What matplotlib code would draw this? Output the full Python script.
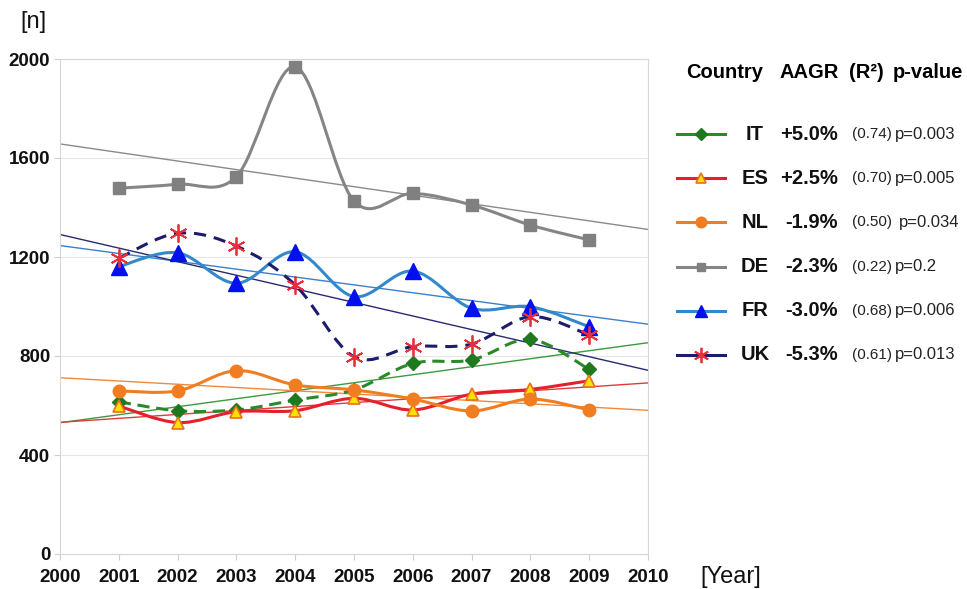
import numpy as np
import matplotlib
matplotlib.use("Agg")
import matplotlib.pyplot as plt
from matplotlib.path import Path
from matplotlib.patches import PathPatch
from matplotlib.lines import Line2D

plt.rcParams['font.family'] = ['Liberation Sans', 'DejaVu Sans']

# ---------------- data ----------------
years = [2001, 2002, 2003, 2004, 2005, 2006, 2007, 2008, 2009]
countries = ["IT", "ES", "NL", "DE", "FR", "UK"]
it_vals = [615, 579, 582, 622, 663, 770, 784, 867, 746]
es_vals = [598, 531, 575, 579, 629, 582, 646, 665, 700]
nl_vals = [659, 659, 741, 683, 663, 626, 578, 626, 582]
de_vals = [1478, 1494, 1525, 1969, 1426, 1457, 1410, 1329, 1269]
fr_vals = [1161, 1217, 1094, 1221, 1040, 1143, 993, 999, 918]
uk_vals = [1195, 1296, 1244, 1087, 797, 838, 848, 959, 885]
aagr = ["+5.0%", "+2.5%", "-1.9%", "-2.3%", "-3.0%", "-5.3%"]
r2 = ["(0.74)", "(0.70)", "(0.50)", "(0.22)", "(0.68)", "(0.61)"]
pvals = ["p=0.003", "p=0.005", "p=0.034", "p=0.2", "p=0.006", "p=0.013"]
x_ticks = list(range(2000, 2011))
y_ticks = [0, 400, 800, 1200, 1600, 2000]

series = [it_vals, es_vals, nl_vals, de_vals, fr_vals, uk_vals]

# ---------------- styles ----------------
styles = {
    "IT": dict(lc="#2a8a2a", ls=(0, (4, 2.2)), mk="D", mfc="#1f7a1f", mec="#1f7a1f", ms=7.5, mew=1, tc="#3c9a3c"),
    "ES": dict(lc="#e5202a", ls="-", mk="^", mfc="#ffe000", mec="#e87020", ms=9, mew=1.2, tc="#e03a3a"),
    "NL": dict(lc="#f07d22", ls="-", mk="o", mfc="#f07d22", mec="#f07d22", ms=9, mew=1, tc="#f08a3a"),
    "DE": dict(lc="#858585", ls="-", mk="s", mfc="#808080", mec="#808080", ms=9, mew=1, tc="#8a8a8a"),
    "FR": dict(lc="#3388cc", ls="-", mk="^", mfc="#0010ee", mec="#0010ee", ms=11, mew=1, tc="#3a80cc"),
    "UK": dict(lc="#1c1c6c", ls=(0, (4, 2.6)), mk=(6, 2, 0), mfc="#e8303c", mec="#e8303c", ms=13, mew=1.3, tc="#2a2a70"),
}


def smooth_path(xs, ys):
    pts = np.column_stack([xs, ys]).astype(float)
    n = len(pts)
    verts = [pts[0]]
    codes = [Path.MOVETO]
    for i in range(n - 1):
        p0 = pts[i - 1] if i > 0 else pts[i]
        p1 = pts[i]
        p2 = pts[i + 1]
        p3 = pts[i + 2] if i + 2 < n else pts[i + 1]
        c1 = p1 + (p2 - p0) / 6.0
        c2 = p2 - (p3 - p1) / 6.0
        verts += [c1, c2, p2]
        codes += [Path.CURVE4] * 3
    return Path(verts, codes)


W, H = 967, 589
fig = plt.figure(figsize=(W / 100, H / 100), dpi=100)
x0, x1, ytop, ybot = 60, 648, 59, 554
ax = fig.add_axes([x0 / W, 1 - ybot / H, (x1 - x0) / W, (ybot - ytop) / H])
ax.set_xlim(2000, 2010)
ax.set_ylim(0, 2000)

for sp in ax.spines.values():
    sp.set_color("#d6d6d6")
    sp.set_linewidth(0.8)
ax.set_yticks(y_ticks)
ax.set_xticks(x_ticks)
ax.grid(axis="y", color="#e6e6e6", linewidth=0.8)
ax.set_axisbelow(True)
ax.tick_params(axis="both", color="#cfcfcf", length=4, width=0.8)
ax.tick_params(axis="x", pad=7)
ax.tick_params(axis="y", pad=3)
for lab in ax.get_xticklabels() + ax.get_yticklabels():
    lab.set_fontweight("bold")
    lab.set_fontsize(13.5)
    lab.set_color("#111111")

# trend lines (linear fits of the data)
xfit = np.array([2000, 2010])
for c, vals in zip(countries, series):
    k, b = np.polyfit(years, vals, 1)
    ax.plot(xfit, k * xfit + b, color=styles[c]["tc"], lw=1.0, zorder=2)

# series
for i, (c, vals) in enumerate(zip(countries, series)):
    st = styles[c]
    patch = PathPatch(smooth_path(years, vals), fill=False, edgecolor=st["lc"],
                      lw=2.2, linestyle=st["ls"], zorder=3 + i, capstyle="butt")
    ax.add_patch(patch)
    ax.plot(years, vals, linestyle="none", marker=st["mk"], markersize=st["ms"],
            markerfacecolor=st["mfc"], markeredgecolor=st["mec"],
            markeredgewidth=st["mew"], zorder=3.5 + i)

# axis labels
fig.text(20 / W, 1 - 22 / H, "[n]", fontsize=17, ha="left", va="center", color="#111111")
fig.text(700 / W, 1 - 577 / H, "[Year]", fontsize=17, ha="left", va="center", color="#111111")

# ---------------- custom legend ----------------
lax = fig.add_axes([0, 0, 1, 1])
lax.set_xlim(0, W)
lax.set_ylim(H, 0)
lax.axis("off")

hy = 73
hfs = 14.5
lax.text(686, hy, "Country", fontsize=hfs, fontweight="bold", ha="left", va="center")
lax.text(779, hy, "AAGR", fontsize=hfs, fontweight="bold", ha="left", va="center")
lax.text(849, hy, "(R²)", fontsize=hfs, fontweight="bold", ha="left", va="center")
lax.text(893, hy, "p-value", fontsize=hfs, fontweight="bold", ha="left", va="center")

row0, dy = 134, 44.2
for i, c in enumerate(countries):
    st = styles[c]
    y = row0 + i * dy
    lax.add_line(Line2D([677, 725], [y, y], color=st["lc"], lw=2.2))
    lax.add_line(Line2D([701], [y], linestyle="none", marker=st["mk"],
                        markersize=st["ms"] * (0.6 if c == "DE" else 0.85), markerfacecolor=st["mfc"],
                        markeredgecolor=st["mec"], markeredgewidth=st["mew"]))
    lax.text(755, y, c, fontsize=14.5, fontweight="bold", ha="center", va="center", color="#111111")
    lax.text(838, y, aagr[i], fontsize=14.5, fontweight="bold", ha="right", va="center", color="#111111")
    lax.text(852, y, r2[i], fontsize=11, ha="left", va="center", color="#222222")
    px = 899 if c == "NL" else 895
    lax.text(px, y, pvals[i], fontsize=12, ha="left", va="center", color="#222222")

fig.savefig("out.png", dpi=100)
